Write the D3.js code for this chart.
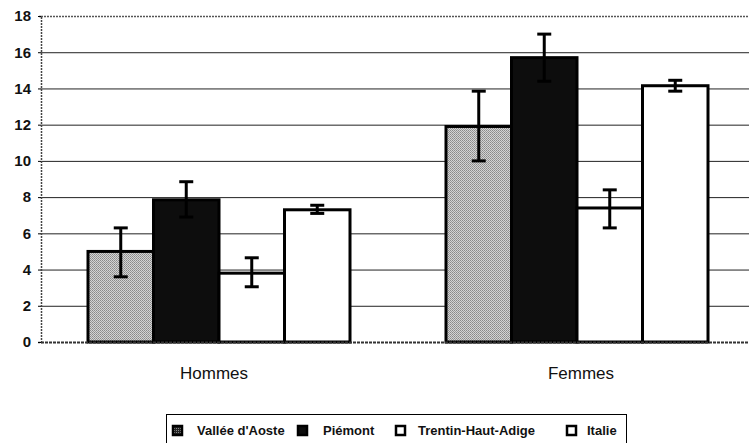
<!DOCTYPE html>
<html><head><meta charset="utf-8">
<script src="https://cdn.jsdelivr.net/npm/d3@7"></script>
<style>body{margin:0;background:#fff}svg{display:block}</style>
</head><body>
<svg id="c" width="749" height="443"></svg>
<script>
const categories = ["Hommes", "Femmes"];
const series = ["Vallée d'Aoste", "Piémont", "Trentin-Haut-Adige", "Italie"];
const valleeValues = [5.0, 11.9];
const valleeLow = [3.6, 10.0];
const valleeHigh = [6.3, 13.85];
const piemontValues = [7.85, 15.7];
const piemontLow = [6.9, 14.4];
const piemontHigh = [8.85, 17.0];
const trentinValues = [3.8, 7.4];
const trentinLow = [3.05, 6.3];
const trentinHigh = [4.65, 8.4];
const italieValues = [7.3, 14.15];
const italieLow = [7.1, 13.85];
const italieHigh = [7.55, 14.45];
const yTicks = [0, 2, 4, 6, 8, 10, 12, 14, 16, 18];

(function() {
const data = [
  {s: series[0], v: valleeValues, lo: valleeLow, hi: valleeHigh, fill: "url(#stipple)"},
  {s: series[1], v: piemontValues, lo: piemontLow, hi: piemontHigh, fill: "#0d0d0d"},
  {s: series[2], v: trentinValues, lo: trentinLow, hi: trentinHigh, fill: "#ffffff"},
  {s: series[3], v: italieValues, lo: italieLow, hi: italieHigh, fill: "#ffffff"}
];

const svg = d3.select("#c");
const defs = svg.append("defs");
const pat = defs.append("pattern").attr("id", "stipple").attr("width", 2).attr("height", 2)
  .attr("patternUnits", "userSpaceOnUse");
pat.append("rect").attr("width", 2).attr("height", 2).attr("fill", "#d4d4d4");
pat.append("rect").attr("width", 1).attr("height", 1).attr("fill", "#8a8a8a");
pat.append("rect").attr("x", 1).attr("y", 1).attr("width", 1).attr("height", 1).attr("fill", "#9a9a9a");
const pat2 = defs.append("pattern").attr("id", "stipple2").attr("width", 2).attr("height", 2)
  .attr("patternUnits", "userSpaceOnUse");
pat2.append("rect").attr("width", 2).attr("height", 2).attr("fill", "#222");
pat2.append("rect").attr("width", 1).attr("height", 1).attr("fill", "#888");

const mLeft = 41, mTop = 16, mBottom = 342;
const y = d3.scaleLinear().domain([0, 18]).range([mBottom, mTop]);
const x0 = d3.scaleBand().domain(categories).range([40, 756]);
const groupW = 262;
const x1 = d3.scaleBand().domain(series).range([0, groupW]);
const xLabel = d3.scalePoint().domain(categories).range([214, 581]);

// gridlines
svg.append("g").selectAll("line").data(yTicks.filter(t => t > 0)).join("line")
  .attr("x1", mLeft).attr("x2", 749)
  .attr("y1", d => y(d) + 0.5).attr("y2", d => y(d) + 0.5)
  .attr("stroke", d => d === 18 ? "#555" : "#222").attr("stroke-width", d => d === 18 ? 1.5 : 1)
  .attr("stroke-dasharray", d => d === 18 ? "2,1" : null);

// y axis
const yAxis = d3.axisLeft(y).tickValues(yTicks).tickSize(3).tickPadding(7);
const ga = svg.append("g").attr("transform", `translate(${mLeft},0)`).call(yAxis);
ga.select(".domain").attr("stroke", "#444").attr("stroke-width", 1.5).attr("stroke-dasharray", "2,1");
ga.selectAll(".tick line").attr("stroke", "#000");
ga.selectAll(".tick text").attr("font-family", "Liberation Sans, Arial, sans-serif")
  .attr("font-size", 15).attr("font-weight", "bold").attr("fill", "#111");

// bars
const groups = svg.append("g").selectAll("g").data(categories).join("g")
  .attr("transform", c => `translate(${x0(c) + x0.bandwidth() / 2 - groupW / 2},0)`);

groups.each(function(c, ci) {
  const g = d3.select(this);
  data.forEach(d => {
    g.append("rect")
      .attr("x", x1(d.s)).attr("width", x1.bandwidth())
      .attr("y", y(d.v[ci])).attr("height", y(0) - y(d.v[ci]))
      .attr("fill", d.fill).attr("stroke", "#000").attr("stroke-width", 3);
  });
  data.forEach(d => {
    const cx = x1(d.s) + x1.bandwidth() / 2;
    const eb = g.append("g").attr("stroke", "#000").attr("stroke-width", 3);
    eb.append("line").attr("x1", cx).attr("x2", cx).attr("y1", y(d.lo[ci])).attr("y2", y(d.hi[ci]));
    [d.lo[ci], d.hi[ci]].forEach(v => {
      eb.append("line").attr("x1", cx - 7).attr("x2", cx + 7).attr("y1", y(v)).attr("y2", y(v));
    });
  });
});

// x axis baseline
svg.append("line").attr("x1", mLeft).attr("x2", 749).attr("y1", mBottom + 0.5).attr("y2", mBottom + 0.5)
  .attr("stroke", "#333").attr("stroke-width", 2).attr("stroke-dasharray", "3,1");

// category labels
svg.append("g").selectAll("text").data(categories).join("text")
  .attr("x", c => xLabel(c)).attr("y", 379)
  .attr("text-anchor", "middle").attr("font-family", "Liberation Sans, Arial, sans-serif")
  .attr("font-size", 17).attr("fill", "#111").text(c => c);

// legend
const legend = svg.append("g");
legend.append("rect").attr("x", 166.5).attr("y", 414.5).attr("width", 460).attr("height", 40)
  .attr("fill", "#fff").attr("stroke", "#000").attr("stroke-width", 1);
const legendX = [172, 297, 395, 566];
const legendTextX = [197, 323, 418, 587];
const legendFill = ["url(#stipple2)", "#0d0d0d", "#fff", "#fff"];
series.forEach((s, i) => {
  legend.append("rect").attr("x", legendX[i] + 1).attr("y", 426).attr("width", 9).attr("height", 9)
    .attr("fill", legendFill[i]).attr("stroke", "#000").attr("stroke-width", 2.5);
  legend.append("text").attr("x", legendTextX[i]).attr("y", 435)
    .attr("font-family", "Liberation Sans, Arial, sans-serif").attr("font-size", 13)
    .attr("font-weight", "bold").attr("fill", "#111").text(s);
});
})();
</script>
</body></html>
